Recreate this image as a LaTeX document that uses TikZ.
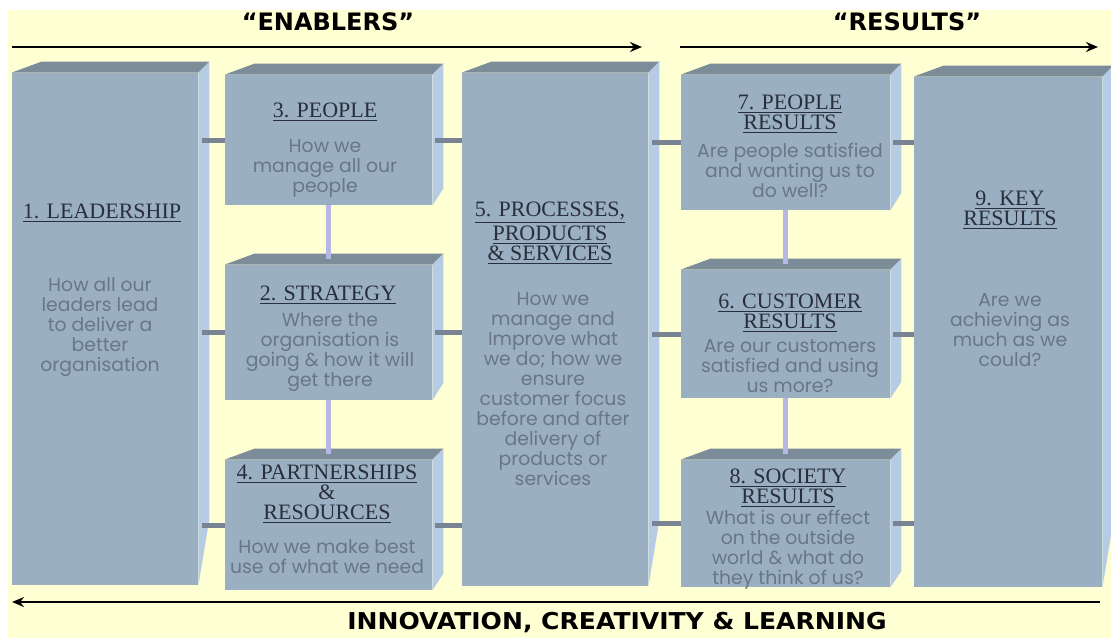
\documentclass[tikz,border=0pt]{standalone}
\usepackage{fontspec}
\setmainfont{Liberation Serif}
\newfontfamily\bodyfont{Poppins}
\newfontfamily\headfont{DejaVu Sans}
\newfontfamily\footfont{DejaVu Sans}[FakeStretch=1.08]
\usetikzlibrary{arrows.meta,calc}

\definecolor{bgyellow}{RGB}{255,255,212}
\definecolor{boxfront}{RGB}{154,176,194}
\definecolor{boxtop}{RGB}{124,140,152}
\definecolor{boxside}{RGB}{182,204,228}
\definecolor{titlecol}{RGB}{40,46,60}
\definecolor{bodycol}{RGB}{104,118,134}
\definecolor{stubcol}{RGB}{120,132,148}
\definecolor{barcol}{RGB}{182,182,232}

\tikzset{
  front/.style={fill=boxfront, inner sep=0pt},
  title/.style={font=\fontsize{11}{10}\selectfont, text=titlecol, align=center},
  body/.style={font=\bodyfont\fontsize{9.4}{10}\selectfont, text=bodycol, align=center},
  head/.style={font=\headfont\bfseries\fontsize{12}{14}\selectfont},
  stub/.style={draw=stubcol, line width=2.5pt},
  bar/.style={draw=barcol, line width=2.5pt},
  flow/.style={draw=black, line width=1pt, -{Stealth[length=6pt,width=5pt]}}
}

% box with top and side face: name, left, top, right, bottom
\newcommand{\ebox}[5]{%
  \node[front, minimum width={(#4-#2)*0.5pt}, minimum height={(#5-#3)*0.5pt}] (#1) at ({(#2+#4)/2},{(#3+#5)/2}) {};
  \fill[boxtop] (#1.north west) -- ++(30,-11) -- ($(#1.north east)+(11,-11)$) -- (#1.north east) -- cycle;
  \fill[boxside] (#1.north east) -- ++(11,-11) -- ($(#1.south east)+(11,{-0.13*(#5-#3)})$) -- (#1.south east) -- cycle;
}

\begin{document}
\begin{tikzpicture}[x=0.5pt, y=-0.5pt]
  \useasboundingbox (0,0) rectangle (1111,638);
  \fill[white] (0,0) rectangle (1111,638);
  \fill[bgyellow] (8,10) rectangle (1111,638);

  % boxes
  \foreach \n/\a/\b/\c/\d in {lead/12/73/198/585, people/225/75/432/205, strategy/225/265/432/400,
      partner/225/460/432/590, process/462/73/648/586, peopleres/681/75/890/210,
      custres/681/270/890/398, socres/681/460/890/587, keyres/914/77/1102/587}
    {\ebox{\n}{\a}{\b}{\c}{\d}}

  % links between the columns
  \foreach \a/\b in {lead/people, lead/strategy, lead/partner,
      process/peopleres, process/custres, process/socres}
    \draw[stub] ($(\a.east |- \b.west)+(4,0)$) -- (\b.west);
  \foreach \a/\b in {people/process, strategy/process, partner/process,
      peopleres/keyres, custres/keyres, socres/keyres}
    \draw[stub] ($(\a.east)+(3,0)$) -- (\b.west |- \a.east);
  \draw[bar] (people.south) -- ([yshift=3]strategy.north);
  \draw[bar] (strategy.south) -- ([yshift=3]partner.north);
  \draw[bar] (peopleres.south) -- ([yshift=3]custres.north);
  \draw[bar] (custres.south) -- ([yshift=3]socres.north);

  % texts
  \node[title] (leadT) at (102,213) {\underline{1. LEADERSHIP}};
  \node[body] (leadB) at (100,327) {How all our\\leaders lead\\to deliver a\\better\\organisation};
  \node[title] (peopleT) at (325,112) {\underline{3. PEOPLE}};
  \node[body] (peopleB) at (325,168) {How we\\manage all our\\people};
  \node[title] (strategyT) at (328,295) {\underline{2. STRATEGY}};
  \node[body] (strategyB) at (330,352) {Where the\\organisation is\\going \& how it will\\get there};
  \node[title] (partnerT) at (327,494) {\underline{4. PARTNERSHIPS}\\\&\\\underline{RESOURCES}};
  \node[body] (partnerB) at (327,557) {How we make best\\use of what we need};
  \node[title] (processT) at (550,233) {\underline{5. PROCESSES,}\\\underline{PRODUCTS}\\\underline{\& SERVICES}};
  \node[body] (processB) at (553,389) {How we\\manage and\\Improve what\\we do; how we\\ensure\\customer focus\\before and after\\delivery of\\products or\\services};
  \node[title] (peopleresT) at (790,114) {\underline{7. PEOPLE}\\\underline{RESULTS}};
  \node[body] (peopleresB) at (790,170) {Are people satisfied\\and wanting us to\\do well?};
  \node[title] (custresT) at (790,313) {\underline{6. CUSTOMER}\\\underline{RESULTS}};
  \node[body] (custresB) at (790,366) {Are our customers\\satisfied and using\\us more?};
  \node[title] (socresT) at (788,488) {\underline{8. SOCIETY}\\\underline{RESULTS}};
  \node[body] (socresB) at (788,550) {What is our effect\\on the outside\\world \& what do\\they think of us?};
  \node[title] (keyresT) at (1010,210) {\underline{9. KEY}\\\underline{RESULTS}};
  \node[body] (keyresB) at (1010,330) {Are we\\achieving as\\much as we\\could?};

  % direction arrows
  \coordinate (enA) at (12,47);
  \coordinate (enB) at (642,47);
  \coordinate (reA) at (680,47);
  \coordinate (reB) at (1098,47);
  \coordinate (inA) at (1100,602);
  \coordinate (inB) at (12,602);
  \draw[flow] (enA) -- (enB);
  \draw[flow] (reA) -- (reB);
  \draw[flow] (inA) -- (inB);
  \node[head] (enablers) at (328,22) {“ENABLERS”};
  \node[head] (results) at (907,22) {“RESULTS”};
  \node[head, font=\footfont\bfseries\fontsize{11.6}{13}\selectfont] (innov) at (617,623) {INNOVATION, CREATIVITY \& LEARNING};
\end{tikzpicture}
\end{document}
